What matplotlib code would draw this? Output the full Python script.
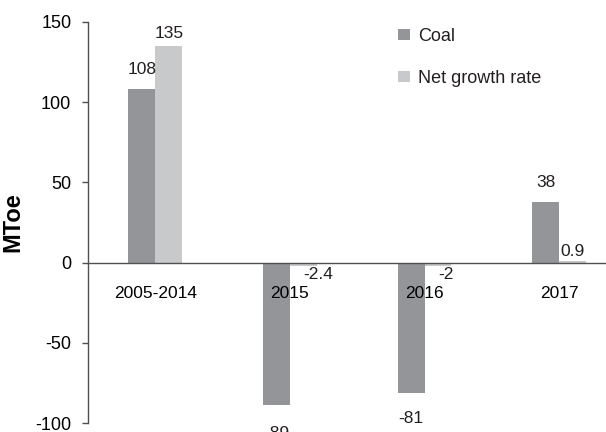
import matplotlib.pyplot as plt
import numpy as np

categories = ["2005-2014", "2015", "2016", "2017"]
coal = [108, -89, -81, 38]
net_growth = [135, -2.4, -2, 0.9]
coal_labels = ["108", "-89", "-81", "38"]
net_labels = ["135", "-2.4", "-2", "0.9"]

COAL_COLOR = "#939598"
NET_COLOR = "#c8c9cb"
AXIS_COLOR = "#505050"

plt.rcParams["font.family"] = ["Liberation Sans", "DejaVu Sans"]
plt.rcParams["text.color"] = "#231f20"
plt.rcParams["axes.unicode_minus"] = False

fig = plt.figure(figsize=(6.06, 4.32), dpi=100)
ax = fig.add_axes([88 / 606, 9 / 432, 538.5 / 606, 401 / 432])

x = np.arange(len(categories))
width = 0.2
coal_bars = ax.bar(x - width / 2, coal, width, color=COAL_COLOR, label="Coal")
net_bars = ax.bar(x + width / 2, net_growth, width, color=NET_COLOR, label="Net growth rate")

# value labels, offsets in points (dx, dy)
coal_offsets = [(0, 14), (0, -20), (0, -19), (0, 14)]
net_offsets = [(0, 9), (11, -6), (6, -6), (0, 7)]
for bars, labels, offsets in [(coal_bars, coal_labels, coal_offsets),
                              (net_bars, net_labels, net_offsets)]:
    for bar, lab, (dx, dy) in zip(bars, labels, offsets):
        h = bar.get_height()
        xc = bar.get_x() + bar.get_width() / 2
        ax.annotate(lab, xy=(xc, h), xytext=(dx, dy), textcoords="offset points",
                    ha="center", va="center", fontsize=12.5, annotation_clip=False)

ax.set_xlim(-0.5, 3.5)
ax.set_ylim(-100, 150)
ax.set_yticks([-100, -50, 0, 50, 100, 150])
ax.set_xticks(x)
ax.set_xticklabels(categories)
ax.tick_params(axis="x", length=0, pad=17, labelsize=12.5)
ax.tick_params(axis="y", length=4, width=1, color=AXIS_COLOR, pad=8, labelsize=13)

ax.spines["top"].set_visible(False)
ax.spines["right"].set_visible(False)
ax.spines["bottom"].set_position(("data", 0))
for s in ("left", "bottom"):
    ax.spines[s].set_color(AXIS_COLOR)
    ax.spines[s].set_linewidth(1)

ax.set_ylabel("MToe", fontsize=17, fontweight="bold", labelpad=8)

ax.legend(loc="upper left", bbox_to_anchor=(398 / 606, 1 - 28 / 432),
          bbox_transform=fig.transFigure, frameon=False, fontsize=13,
          handlelength=0.65, handleheight=0.55, handletextpad=0.45,
          labelspacing=1.4, borderpad=0, borderaxespad=0)

fig.savefig("out.png", dpi=100)
